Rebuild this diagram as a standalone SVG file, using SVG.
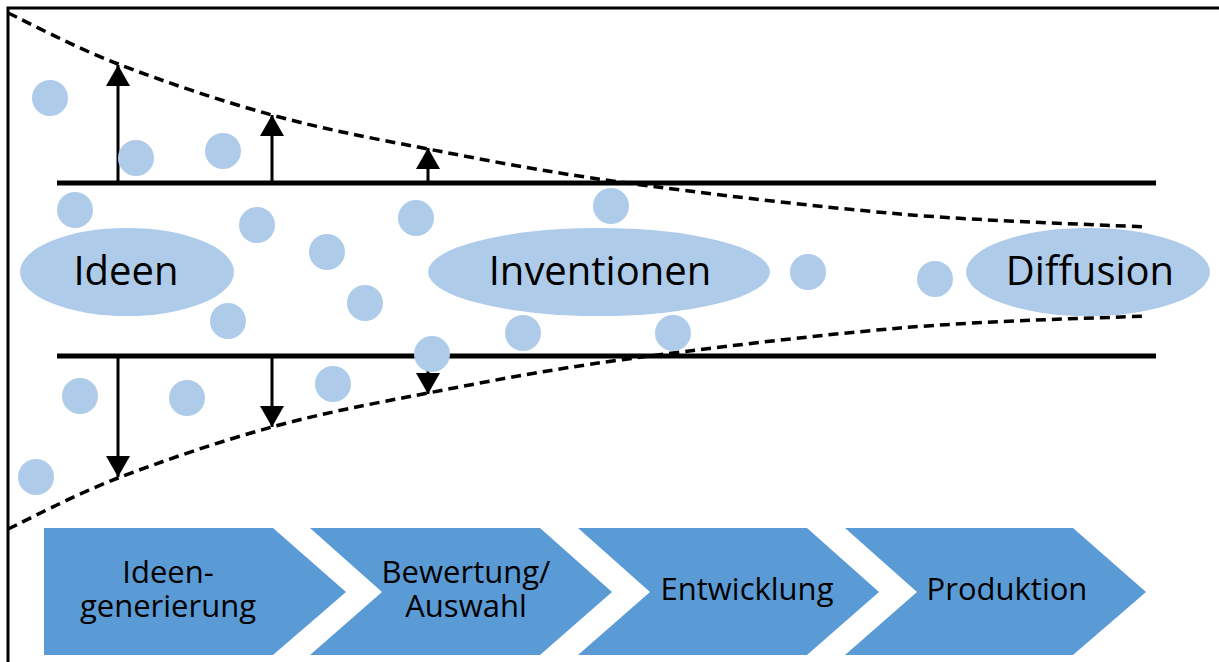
<svg xmlns="http://www.w3.org/2000/svg" width="1219" height="662" viewBox="0 0 1219 662">
  <style>
    .frame { fill: none; stroke: #000; stroke-width: 3; }
    .rail { stroke: #000; stroke-width: 5; }
    .funnel { fill: none; stroke: #000; stroke-width: 3.5; stroke-dasharray: 10 6; }
    .push { stroke: #000; stroke-width: 3; marker-end: url(#head); }
    .dot { fill: #AECCEA; }
    .blob { fill: #AECCEA; }
    .blob-label { font-family: "Open Sans", "Liberation Sans", sans-serif; font-size: 40px; fill: #000; text-anchor: middle; }
    .step { fill: #5B9BD5; }
    .step-label { font-family: "Open Sans", "Liberation Sans", sans-serif; font-size: 31px; fill: #000; text-anchor: middle; }
  </style>
  <defs>
    <marker id="head" markerUnits="userSpaceOnUse" markerWidth="22" markerHeight="24" viewBox="0 0 21 24" refX="21" refY="12" orient="auto">
      <path d="M0,0 L21,12 L0,24 z" fill="#000"/>
    </marker>
  </defs>

  <rect width="1219" height="662" fill="#fff"/>
  <path class="frame" d="M8,662 V8 H1219"/>

  <!-- connectors: rails, funnel outline and spreading arrows -->
  <g id="connectors">
    <line class="rail" x1="57" y1="183" x2="1156" y2="183"/>
    <line class="rail" x1="57" y1="356" x2="1156" y2="356"/>
    <path class="funnel" d="M8,13 C26.3,21.5 74,47 118,64 C162,81 220.3,100.8 272,115 C323.7,129.2 370,137.8 428,149 C486,160.2 541.3,171.2 620,182 C698.7,192.8 812.5,206.5 900,214 C987.5,221.5 1104.2,224.8 1145,227"/>
    <path class="funnel" d="M8,529 C26.3,520.5 74,495 118,478 C162,461 220.3,441.2 272,427 C323.7,412.8 370,404.2 428,393 C486,381.8 541.3,370.8 620,360 C698.7,349.2 812.5,335.5 900,328 C987.5,320.5 1104.2,318 1145,316"/>
    <line class="push" x1="118" y1="183" x2="118" y2="65"/>
    <line class="push" x1="272" y1="183" x2="272" y2="115"/>
    <line class="push" x1="428" y1="183" x2="428" y2="148"/>
    <line class="push" x1="118" y1="356" x2="118" y2="477"/>
    <line class="push" x1="272" y1="356" x2="272" y2="427"/>
    <line class="push" x1="428" y1="356" x2="428" y2="394"/>
  </g>

  <!-- scattered ideas -->
  <g id="ideas">
    <circle class="dot" cx="50" cy="98" r="18"/>
    <circle class="dot" cx="136" cy="158" r="18"/>
    <circle class="dot" cx="223" cy="151" r="18"/>
    <circle class="dot" cx="75" cy="210" r="18"/>
    <circle class="dot" cx="257" cy="225" r="18"/>
    <circle class="dot" cx="327" cy="252" r="18"/>
    <circle class="dot" cx="365" cy="303" r="18"/>
    <circle class="dot" cx="228" cy="321" r="18"/>
    <circle class="dot" cx="416" cy="218" r="18"/>
    <circle class="dot" cx="611" cy="206" r="18"/>
    <circle class="dot" cx="432" cy="354" r="18"/>
    <circle class="dot" cx="523" cy="333" r="18"/>
    <circle class="dot" cx="673" cy="333" r="18"/>
    <circle class="dot" cx="808" cy="272" r="18"/>
    <circle class="dot" cx="935" cy="279" r="18"/>
    <circle class="dot" cx="80" cy="396" r="18"/>
    <circle class="dot" cx="187" cy="398" r="18"/>
    <circle class="dot" cx="333" cy="384" r="18"/>
    <circle class="dot" cx="36" cy="477" r="18"/>
  </g>

  <g id="ideen">
    <ellipse class="blob" cx="127" cy="272" rx="107" ry="44"/>
    <text class="blob-label" x="126" y="285">Ideen</text>
  </g>
  <g id="inventionen">
    <ellipse class="blob" cx="599" cy="272" rx="171" ry="44"/>
    <text class="blob-label" x="600" y="285">Inventionen</text>
  </g>
  <g id="diffusion">
    <ellipse class="blob" cx="1088" cy="272" rx="122" ry="44"/>
    <text class="blob-label" x="1090" y="285">Diffusion</text>
  </g>

  <!-- process steps -->
  <g id="step-ideengenerierung">
    <path class="step" d="M44,528 H273 L346,592 L273,655 H44 z"/>
    <text class="step-label" x="168" y="583">Ideen-</text>
    <text class="step-label" x="168" y="617">generierung</text>
  </g>
  <g id="step-bewertung">
    <path class="step" d="M310,528 H540 L612,592 L540,655 H310 L382,592 z"/>
    <text class="step-label" x="466" y="583">Bewertung/</text>
    <text class="step-label" x="466" y="617">Auswahl</text>
  </g>
  <g id="step-entwicklung">
    <path class="step" d="M578,528 H807 L879,592 L807,655 H578 L650,592 z"/>
    <text class="step-label" x="747" y="600">Entwicklung</text>
  </g>
  <g id="step-produktion">
    <path class="step" d="M845,528 H1073 L1146,592 L1073,655 H845 L917,592 z"/>
    <text class="step-label" x="1007" y="600">Produktion</text>
  </g>
</svg>
